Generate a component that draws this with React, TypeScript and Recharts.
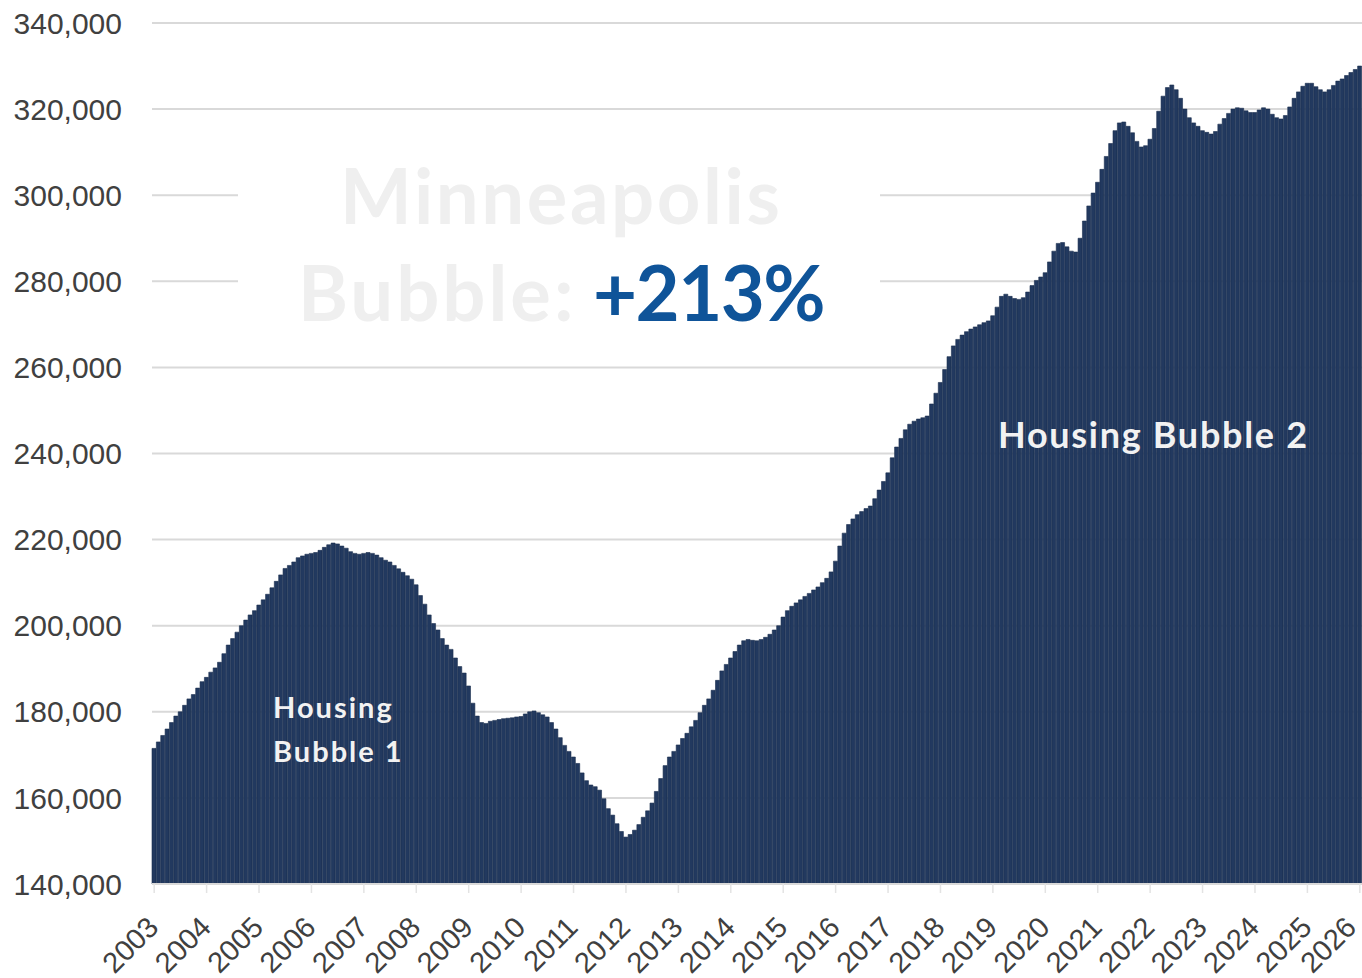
import React from 'react';
import { BarChart, Bar, XAxis, YAxis, CartesianGrid } from 'recharts';

// Median home value, monthly (USD)
const p2003 = [171500, 173000, 174500, 176000, 177500, 179000, 180000, 181500, 183000, 184000, 185500, 187000];
const p2004 = [188000, 189200, 190200, 191500, 193500, 195500, 197000, 198500, 200000, 201300, 202500, 203500];
const p2005 = [204800, 206000, 207300, 208800, 210300, 211800, 213300, 214000, 214800, 215800, 216200, 216600];
const p2006 = [216800, 217000, 217500, 218200, 218800, 219200, 219000, 218500, 218000, 217200, 216800, 216600];
const p2007 = [216800, 217000, 216800, 216400, 215800, 215200, 214800, 214000, 213200, 212400, 211600, 210800];
const p2008 = [209500, 207000, 205000, 202500, 200500, 199000, 197000, 195500, 194500, 192500, 190500, 189000];
const p2009 = [186000, 182000, 179000, 177500, 177300, 177800, 178000, 178200, 178400, 178500, 178600, 178800];
const p2010 = [178900, 179500, 180000, 180200, 179800, 179300, 178800, 177500, 176000, 174000, 172200, 170800];
const p2011 = [169500, 168000, 165800, 164000, 163000, 162600, 161800, 159800, 157500, 156000, 154000, 152200];
const p2012 = [150900, 151500, 152500, 153800, 155500, 157000, 158800, 161500, 164500, 167500, 169500, 170800];
const p2013 = [172300, 173800, 175000, 176500, 178000, 179800, 181500, 183000, 185000, 187300, 189500, 191000];
const p2014 = [192500, 194000, 195500, 196500, 196800, 196600, 196500, 196800, 197300, 198000, 199000, 200000];
const p2015 = [202000, 203500, 204500, 205300, 206000, 206800, 207500, 208300, 209000, 210000, 211000, 212500];
const p2016 = [215000, 218500, 221500, 223500, 224800, 225800, 226500, 227200, 227800, 229500, 231500, 233500];
const p2017 = [235500, 239000, 241500, 243500, 245500, 246800, 247500, 248000, 248300, 248700, 251500, 254000];
const p2018 = [256500, 259500, 262500, 265000, 266500, 267500, 268300, 268900, 269400, 269900, 270400, 270800];
const p2019 = [272000, 274000, 276500, 277000, 276500, 276000, 275800, 276200, 277500, 279000, 280200, 281000];
const p2020 = [282000, 284500, 287000, 288800, 289000, 288000, 287000, 286800, 290000, 294000, 297500, 300500];
const p2021 = [303000, 306000, 309000, 312000, 315000, 316800, 317000, 316000, 314500, 312500, 311200, 311500];
const p2022 = [313000, 315500, 319500, 323000, 325000, 325600, 324500, 322500, 320000, 318000, 316800, 316000];
const p2023 = [315000, 314600, 314200, 314800, 316500, 317800, 319000, 320000, 320300, 320200, 319600, 319200];
const p2024 = [319200, 319800, 320300, 320000, 318800, 318000, 317700, 318500, 320500, 322500, 324000, 325300];
const p2025 = [326000, 326000, 325200, 324500, 324000, 324500, 325500, 326500, 327000, 327800, 328500, 329200];
const p2026 = [330000];

const years = [2003, 2004, 2005, 2006, 2007, 2008, 2009, 2010, 2011, 2012, 2013, 2014, 2015, 2016, 2017, 2018, 2019, 2020, 2021, 2022, 2023, 2024, 2025, 2026];
const yearPrices = [p2003, p2004, p2005, p2006, p2007, p2008, p2009, p2010, p2011, p2012, p2013, p2014, p2015, p2016, p2017, p2018, p2019, p2020, p2021, p2022, p2023, p2024, p2025, p2026];

const yTicks = [140000, 160000, 180000, 200000, 220000, 240000, 260000, 280000, 300000, 320000, 340000];

const data = years.flatMap((year, yi) =>
  yearPrices[yi].map((price, m) => ({
    month: `${year}-${String(m + 1).padStart(2, '0')}`,
    price,
  }))
);
const yearTicks = years.map((y) => `${y}-01`);

const tickFont = 'Liberation Sans, Arial, sans-serif';
const titleFont = 'Lato, "Open Sans", sans-serif';

// year label rotated 45deg, its end sitting just right of / below the tick
function YearTick({ x, y, payload }: any) {
  const px = Math.min(x + 6, 1358); // keep the last label inside the page
  const py = y + 36;
  return (
    <text
      x={px}
      y={py}
      transform={`rotate(-45, ${px}, ${py})`}
      textAnchor="end"
      fill="#404040"
      fontSize={29}
      fontFamily={tickFont}
    >
      {String(payload.value).slice(0, 4)}
    </text>
  );
}

export default function App() {
  return (
    <div style={{ position: 'absolute', left: 0, top: 0, width: 1362, height: 978, background: '#fff' }}>
      <BarChart
        width={1362}
        height={978}
        data={data}
        margin={{ top: 23, right: 0, bottom: 0, left: 0 }}
        barCategoryGap={0}
        barGap={0}
      >
        <CartesianGrid vertical={false} stroke="#d9d9d9" strokeWidth={2} />
        <XAxis
          dataKey="month"
          ticks={yearTicks}
          interval={0}
          height={94}
          axisLine={{ stroke: '#d9d9d9', strokeWidth: 2 }}
          tickLine={{ stroke: '#e3e3e3', strokeWidth: 1.5 }}
          tickSize={9}
          tickMargin={0}
          tick={<YearTick />}
        />
        <YAxis
          domain={[140000, 340000]}
          ticks={yTicks}
          interval={0}
          width={152}
          axisLine={false}
          tickLine={false}
          tickMargin={24}
          tickFormatter={(v: number) => v.toLocaleString('en-US')}
          tick={{ fill: '#404040', fontSize: 30, fontFamily: tickFont }}
        />
        <Bar dataKey="price" fill="#22395f" stroke="#1a2d4d" strokeWidth={0.6} isAnimationActive={false} />
      </BarChart>

      <svg
        width={1362}
        height={978}
        style={{ position: 'absolute', left: 0, top: 0, pointerEvents: 'none' }}
      >
        <rect x={238} y={130} width={642} height={215} fill="#ffffff" />
        <text x={340} y={224} fontFamily={titleFont} fontWeight={700} fontSize={76} letterSpacing={2.6} fill="#efefef">
          Minneapolis
        </text>
        <text x={298} y={321} fontFamily={titleFont} fontWeight={700} fontSize={76} letterSpacing={3} fill="#efefef">
          Bubble:
        </text>
        <text x={593} y={321} fontFamily={titleFont} fontWeight={700} fontSize={76} letterSpacing={-1.5} fill="#0f5499">
          +213%
        </text>
        <text x={273} y={718} fontFamily={titleFont} fontWeight={700} fontSize={29} letterSpacing={2} fill="#f2f2f2">
          Housing
        </text>
        <text x={273} y={762} fontFamily={titleFont} fontWeight={700} fontSize={29} letterSpacing={2} fill="#f2f2f2">
          Bubble 1
        </text>
        <text x={998} y={448} fontFamily={titleFont} fontWeight={700} fontSize={36} letterSpacing={1.7} fill="#f2f2f2">
          Housing Bubble 2
        </text>
      </svg>
    </div>
  );
}
